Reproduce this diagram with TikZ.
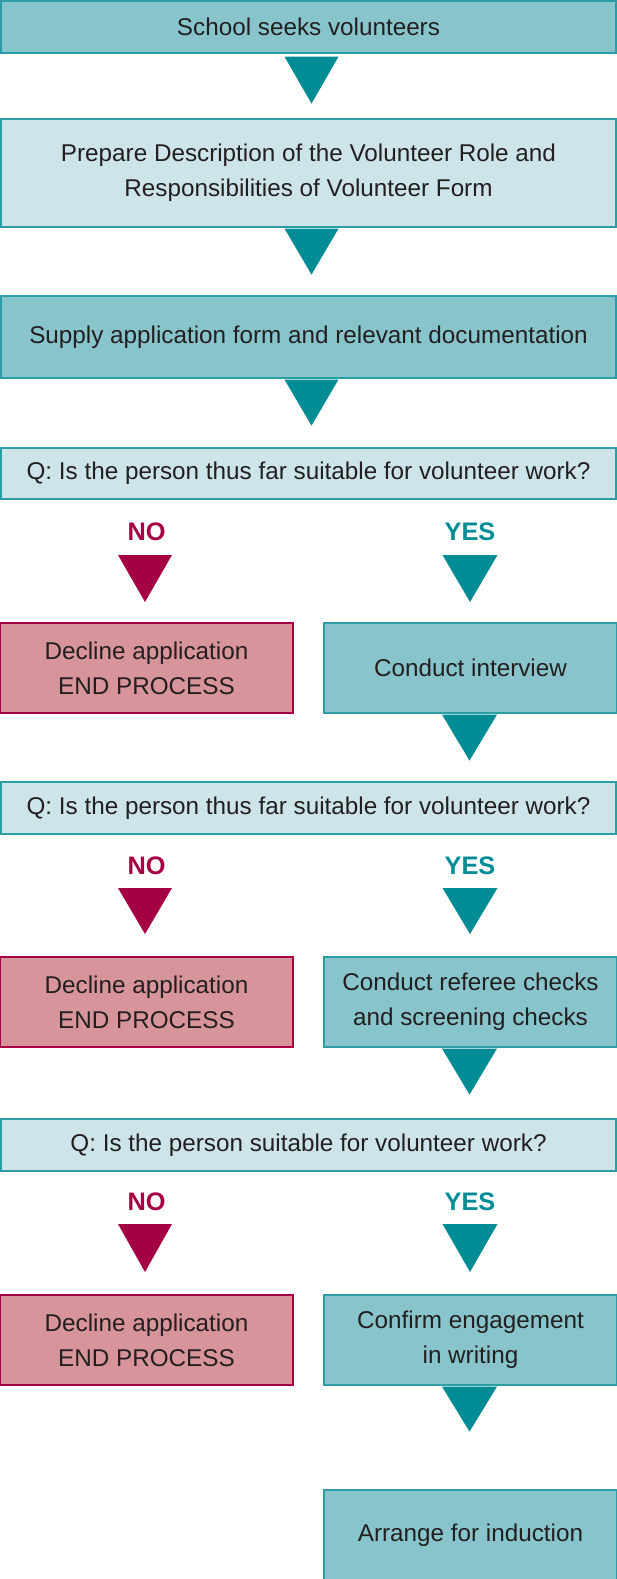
\documentclass[tikz,border=0pt]{standalone}
\usepackage{fontspec}
\setmainfont{Liberation Sans}
\usetikzlibrary{positioning,calc}

\definecolor{tealdark}{HTML}{008C95}
\definecolor{tealmid}{HTML}{88C4CB}
\definecolor{teallight}{HTML}{CDE5E9}
\definecolor{tealline}{HTML}{2A9DA5}
\definecolor{crimson}{HTML}{A50044}
\definecolor{pinkfill}{HTML}{D8949B}
\definecolor{inkgrey}{HTML}{231F20}

\tikzset{
  box/.style={draw=tealline, line width=0.9pt, text=inkgrey, align=center, inner sep=0pt,
    font=\fontsize{18.2}{26}\selectfont},
  widebox/.style={box, minimum width=461.25pt},
  halfbox/.style={box, minimum width=219.75pt, minimum height=67.5pt},
  midbox/.style={fill=tealmid},
  lightbox/.style={fill=teallight},
  declinebox/.style={halfbox, fill=pinkfill, draw=crimson},
  yesbox/.style={halfbox, midbox},
  answer/.style={font=\fontsize{19}{22}\bfseries},
  nolabel/.style={answer, text=crimson},
  yeslabel/.style={answer, text=tealdark}
}

\begin{document}
\begin{tikzpicture}[x=0.75pt, y=-0.75pt]
\useasboundingbox (0,0) rectangle (617,1579);

% main flow
\node[widebox, midbox, minimum height=39pt] (seek) at (308.5,27) {School seeks volunteers};
\fill[tealdark] ($(seek.south)+(-24,3)$) -- ++(54,0) -- ++(-27,47) -- cycle;
\node[widebox, lightbox, minimum height=81pt] (describe) at (308.5,173)
  {Prepare Description of the Volunteer Role and\\Responsibilities of Volunteer Form};
\fill[tealdark] ($(describe.south)+(-24,1)$) -- ++(54,0) -- ++(-27,46) -- cycle;
\node[widebox, midbox, minimum height=61.5pt] (supply) at (308.5,337)
  {Supply application form and relevant documentation};
\fill[tealdark] ($(supply.south)+(-24,1)$) -- ++(54,0) -- ++(-27,46) -- cycle;

% first question
\node[widebox, lightbox, minimum height=38.25pt] (q1) at (308.5,473.5)
  {Q: Is the person thus far suitable for volunteer work?};
\node[nolabel] (no1) at (146.5,532) {NO};
\node[yeslabel] (yes1) at (470,532) {YES};
\fill[crimson] ($(no1)+(-28.5,23)$) -- ++(54,0) -- ++(-27,47) -- cycle;
\fill[tealdark] ($(yes1)+(-27.5,23)$) -- ++(55,0) -- ++(-27.5,47) -- cycle;
\node[declinebox] (decline1) at (146.5,668) {Decline application\\END PROCESS};
\node[yesbox] (interview) at (470.5,668) {Conduct interview};
\fill[tealdark] ($(interview.south)+(-28.5,1)$) -- ++(55,0) -- ++(-27.5,46) -- cycle;

% second question
\node[widebox, lightbox, minimum height=39pt] (q2) at (308.5,808)
  {Q: Is the person thus far suitable for volunteer work?};
\node[nolabel] (no2) at (146.5,866) {NO};
\node[yeslabel] (yes2) at (470,866) {YES};
\fill[crimson] ($(no2)+(-28.5,22)$) -- ++(54,0) -- ++(-27,46) -- cycle;
\fill[tealdark] ($(yes2)+(-27.5,22)$) -- ++(55,0) -- ++(-27.5,46) -- cycle;
\node[declinebox] (decline2) at (146.5,1002) {Decline application\\END PROCESS};
\node[yesbox] (checks) at (470.5,1002) {Conduct referee checks\\and screening checks};
\fill[tealdark] ($(checks.south)+(-28.5,1)$) -- ++(55,0) -- ++(-27.5,46) -- cycle;

% third question
\node[widebox, lightbox, minimum height=39pt] (q3) at (308.5,1145)
  {Q: Is the person suitable for volunteer work?};
\node[nolabel] (no3) at (146.5,1202) {NO};
\node[yeslabel] (yes3) at (470,1202) {YES};
\fill[crimson] ($(no3)+(-28.5,22)$) -- ++(54,0) -- ++(-27,48) -- cycle;
\fill[tealdark] ($(yes3)+(-27.5,22)$) -- ++(55,0) -- ++(-27.5,48) -- cycle;
\node[declinebox] (decline3) at (146.5,1340) {Decline application\\END PROCESS};
\node[yesbox] (confirm) at (470.5,1340) {Confirm engagement\\in writing};
\fill[tealdark] ($(confirm.south)+(-28.5,1)$) -- ++(55,0) -- ++(-27.5,45) -- cycle;

\node[yesbox] (induction) at (470.5,1535) {Arrange for induction};
\end{tikzpicture}
\end{document}
